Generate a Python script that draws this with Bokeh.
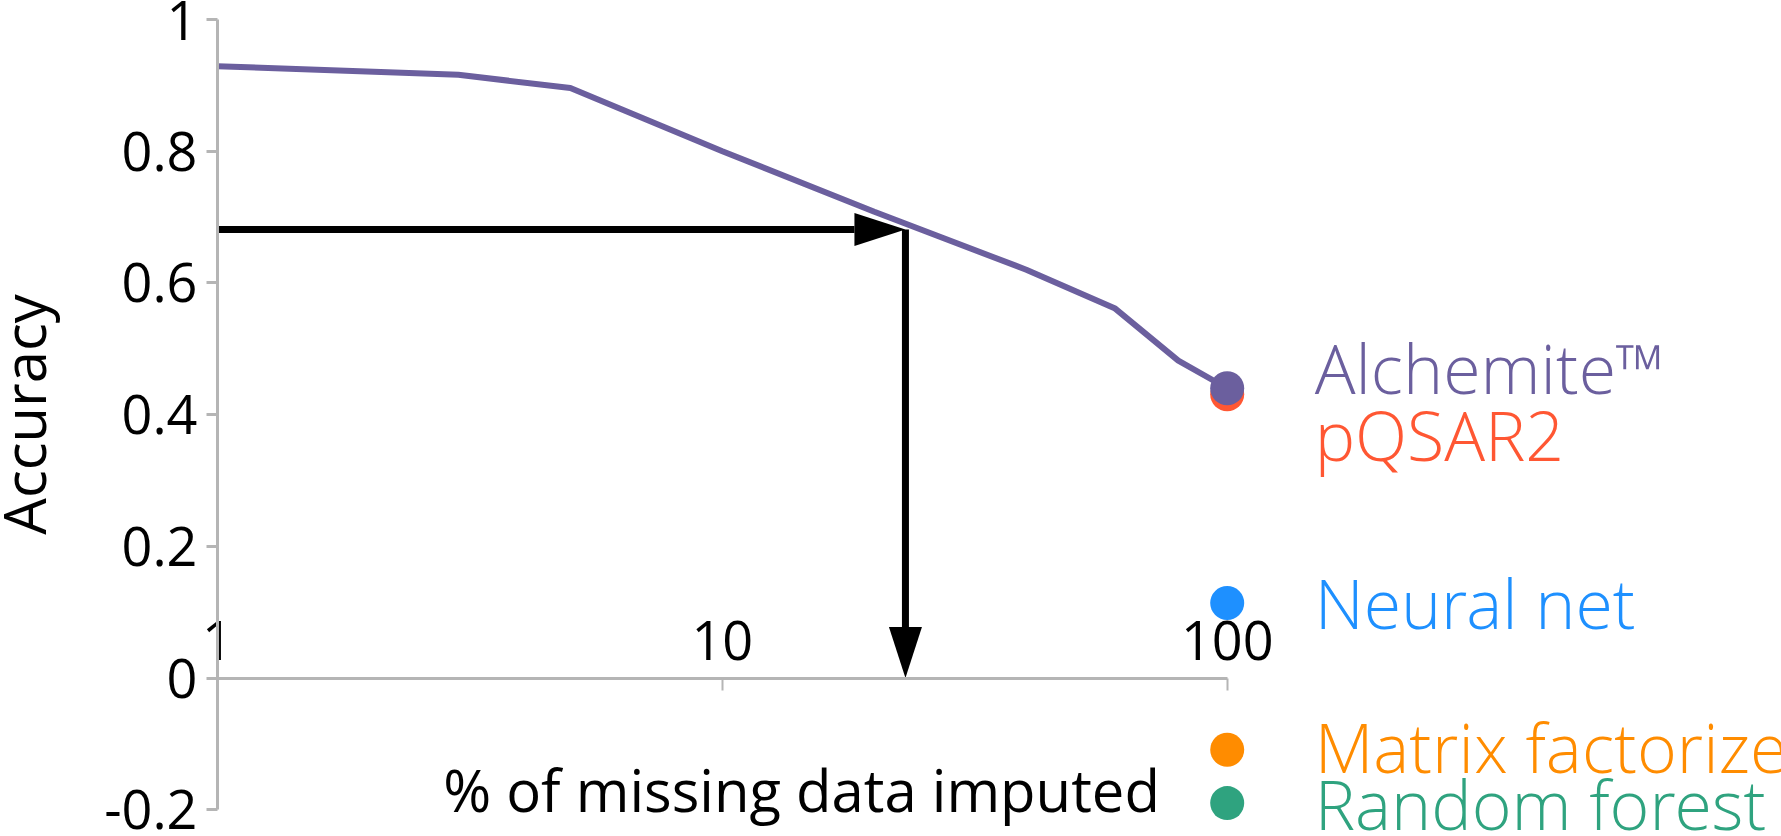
from bokeh.plotting import figure
from bokeh.models import Range1d, FixedTicker, Label
from bokeh.core.properties import value
from bokeh.embed import file_html
from bokeh.resources import INLINE

# ---- data ----
pct_imputed = [1, 3, 5, 10, 20, 40, 60, 80, 100]
alchemite_acc = [0.929, 0.916, 0.896, 0.80, 0.708, 0.620, 0.561, 0.482, 0.440]

methods = ["Alchemite\u2122", "pQSAR2", "Neural net", "Matrix factorize", "Random forest"]
method_acc = [0.440, 0.431, 0.114, -0.109, -0.190]
method_colors = ["#6B5F9E", "#FF5733", "#1E90FF", "#FF8C00", "#2FA37F"]
method_x = 100

arrow_pct = 23.05
arrow_acc = 0.681

x_ticks = [1, 10, 100]
x_tick_labels = ["1", "10", "100"]
y_ticks = [-0.2, 0, 0.2, 0.4, 0.6, 0.8, 1]
y_tick_labels = ["-0.2", "0", "0.2", "0.4", "0.6", "0.8", "1"]

# ---- layout constants ----
W, H = 1781, 836
AXIS_X_PX = 217          # where x = 1 sits
DECADE_PX = 504.85
UNIT_PX = 658.5
x_min = 10 ** (-AXIS_X_PX / DECADE_PX)
x_max = 10 ** ((W - AXIS_X_PX) / DECADE_PX)
y_hi = 1 + 19 / UNIT_PX
y_lo = y_hi - H / UNIT_PX

FONT = "Open Sans"
LIGHT = value("Open Sans Light")

p = figure(width=W, height=H, x_axis_type="log", x_axis_location="above",
           x_range=Range1d(x_min, x_max), y_range=Range1d(y_lo, y_hi),
           output_backend="svg", toolbar_location=None,
           min_border_left=0, min_border_right=0, min_border_top=0, min_border_bottom=0)
p.outline_line_color = None
p.xgrid.visible = False
p.ygrid.visible = False
p.background_fill_color = "white"

AX = "#b5b5b5"
# x axis, crossing at y = 0
xa = p.xaxis[0]
xa.fixed_location = 0
xa.bounds = (1, 100)
xa.ticker = FixedTicker(ticks=x_ticks, minor_ticks=[])
xa.major_label_overrides = dict(zip(x_ticks, x_tick_labels))
xa.axis_line_color = AX
xa.axis_line_width = 3
xa.major_tick_line_color = AX
xa.major_tick_line_width = 2
xa.major_tick_in = 12
xa.major_tick_out = 0
xa.minor_tick_line_color = None
xa.major_label_standoff = 18
xa.major_label_text_font = FONT
xa.major_label_text_font_size = "54px"
xa.major_label_text_color = "black"

# y axis, crossing at x = 1
ya = p.yaxis[0]
ya.fixed_location = 1
ya.bounds = (-0.2, 1)
ya.ticker = FixedTicker(ticks=y_ticks, minor_ticks=[])
ya.major_label_overrides = dict(zip(y_ticks, y_tick_labels))
ya.axis_line_color = AX
ya.axis_line_width = 3
ya.major_tick_line_color = AX
ya.major_tick_line_width = 3
ya.major_tick_in = 0
ya.major_tick_out = 11
ya.minor_tick_line_color = None
ya.major_label_standoff = 9
ya.major_label_text_font = FONT
ya.major_label_text_font_size = "54px"
ya.major_label_text_color = "black"
ya.axis_label = "Accuracy"
ya.axis_label_text_font = FONT
ya.axis_label_text_font_size = "58px"
ya.axis_label_text_font_style = "normal"
ya.axis_label_text_color = "black"
ya.axis_label_standoff = 38

# main curve
p.line(pct_imputed, alchemite_acc, line_color=method_colors[0], line_width=6)

# arrows (shafts + heads derived from the arrow point)
head_len_x = 10 ** (51 / DECADE_PX)
head_half_y = 16.5 / UNIT_PX
head_len_y = 51 / UNIT_PX
head_half_x = 10 ** (16.5 / DECADE_PX)
p.segment(x0=[1], y0=[arrow_acc], x1=[arrow_pct / head_len_x], y1=[arrow_acc],
          line_color="black", line_width=7)
p.patch([arrow_pct / head_len_x, arrow_pct, arrow_pct / head_len_x],
        [arrow_acc + head_half_y, arrow_acc, arrow_acc - head_half_y],
        fill_color="black", line_color=None)
p.segment(x0=[arrow_pct], y0=[arrow_acc], x1=[arrow_pct], y1=[head_len_y],
          line_color="black", line_width=7)
p.patch([arrow_pct / head_half_x, arrow_pct, arrow_pct * head_half_x],
        [head_len_y, 0, head_len_y],
        fill_color="black", line_color=None)

# method points (pQSAR2 first so Alchemite sits on top)
order = [1, 0, 2, 3, 4]
p.scatter([method_x] * 5, [method_acc[i] for i in order], size=34,
          fill_color=[method_colors[i] for i in order], line_color=None)

# method labels
label_x = 149
label_y = [0.471, 0.370, 0.114, -0.104, -0.190]
p.text(x=[label_x] * 5, y=label_y, text=methods, text_color=method_colors,
       text_font=LIGHT, text_font_size="68px", text_baseline="middle", text_align="left")

# x axis title
p.add_layout(Label(x=14.35, y=-0.1686, text="% of missing data imputed",
                   text_font=FONT, text_font_size="58px", text_color="black",
                   text_align="center", text_baseline="middle"))

open("out.html", "w").write(file_html(p, INLINE))
